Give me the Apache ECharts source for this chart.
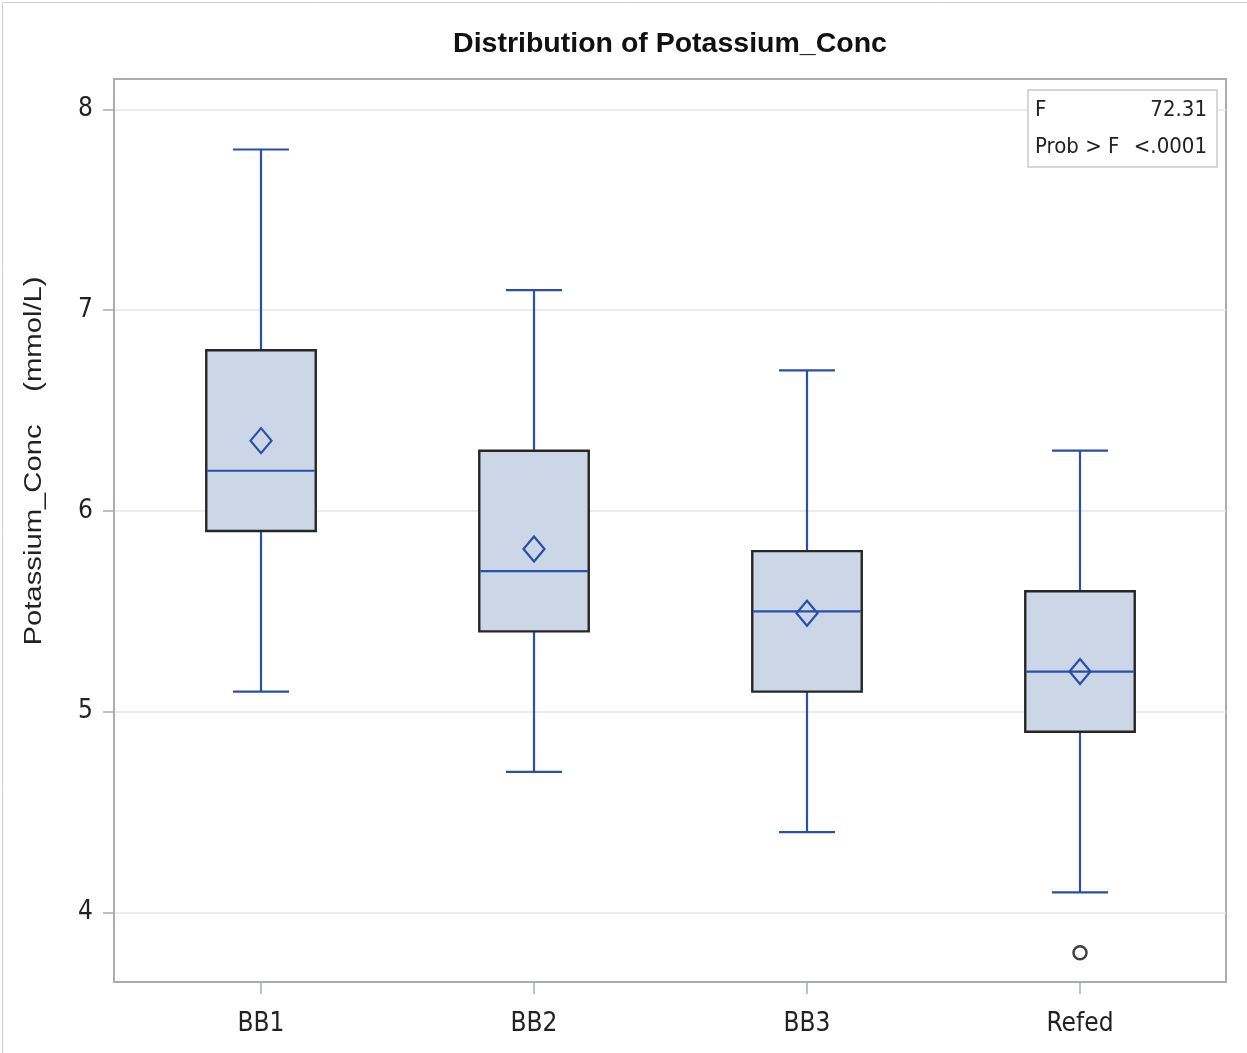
<!DOCTYPE html>
<html>
<head>
<meta charset="utf-8">
<script src="https://cdn.jsdelivr.net/npm/echarts@6/dist/echarts.min.js"></script>
<style>
html,body{margin:0;padding:0;background:#fff;}
#chart{width:1247px;height:1053px;}
</style>
</head>
<body>
<div id="chart"></div>
<script>
// ---- data ----
const categories   = ['BB1', 'BB2', 'BB3', 'Refed'];
const whiskerLow   = [5.1, 4.7, 4.4, 4.1];
const q1           = [5.9, 5.4, 5.1, 4.9];
const median       = [6.2, 5.7, 5.5, 5.2];
const q3           = [6.8, 6.3, 5.8, 5.6];
const whiskerHigh  = [7.8, 7.1, 6.7, 6.3];
const means        = [6.35, 5.81, 5.49, 5.20];
const outlierCats  = ['Refed'];
const outlierVals  = [3.8];
const yTicks       = [4, 5, 6, 7, 8];
const statLabels   = ['F', 'Prob > F'];
const statValues   = ['72.31', '<.0001'];
const titleText    = 'Distribution of Potassium_Conc';
const yTitleText   = 'Potassium_Conc    (mmol/L)';

const BLUE = '#2a4fa8';
const NARROW = "'Liberation Sans Narrow','DejaVu Sans Condensed','Arial Narrow',sans-serif";

const xTicks = categories.map((c, i) => i + 1);
const boxData = categories.map((c, i) => [i + 1, whiskerLow[i], q1[i], median[i], q3[i], whiskerHigh[i], means[i]]);
const outlierData = outlierCats.map((c, i) => [categories.indexOf(c) + 1, outlierVals[i]]);

const chart = echarts.init(document.getElementById('chart'), null, {renderer: 'canvas'});

const option = {
  animation: false,
  backgroundColor: '#fff',
  grid: {
    left: 114, right: 21, top: 79, bottom: 71,
    show: true, borderColor: '#a9adb1', borderWidth: 2, backgroundColor: 'transparent'
  },
  xAxis: {
    type: 'value',
    min: 0.4615, max: 4.5348,
    axisLine: {show: true, lineStyle: {color: '#a9adb1', width: 2}},
    axisTick: {show: true, customValues: xTicks, length: 12, lineStyle: {color: '#a9adb1', width: 1.5}},
    axisLabel: {
      customValues: xTicks, margin: 29,
      formatter: v => categories[Math.round(v) - 1] || '',
      fontFamily: NARROW, fontSize: 26, color: '#222'
    },
    splitLine: {show: false}
  },
  yAxis: {
    type: 'value',
    min: 3.654, max: 8.151,
    splitNumber: 5,
    axisLine: {show: true, lineStyle: {color: '#a9adb1', width: 2}},
    axisTick: {show: true, customValues: yTicks, length: 11, lineStyle: {color: '#a9adb1', width: 1.5}},
    axisLabel: {customValues: yTicks, margin: 21, fontFamily: NARROW, fontSize: 26, color: '#222'},
    splitLine: {show: true, lineStyle: {color: '#e4e4e4', width: 1.5}}
  },
  graphic: [
    {type: 'rect', left: 0, top: 0, shape: {x: 0.5, y: 0.5, width: 1246, height: 1052}, style: {fill: 'none', stroke: '#cfcfcf', lineWidth: 1}, silent: true, z: -10},
    {type: 'text', x: 670, y: 44, style: {text: titleText, font: "bold 28.5px 'Liberation Sans',Arial,sans-serif", fill: '#111', align: 'center', verticalAlign: 'middle'}},
    {type: 'text', x: 35, y: 461, rotation: Math.PI / 2, scaleX: 1.33, scaleY: 1.05,
      style: {text: yTitleText, font: "22px 'Liberation Sans',Arial,sans-serif", fill: '#222', align: 'center', verticalAlign: 'middle'}},
    {type: 'rect', shape: {x: 1028, y: 90, width: 189, height: 77}, style: {fill: '#fff', stroke: '#c9c9c9', lineWidth: 1.5}, z: 100},
    {type: 'text', x: 1035, y: 110, z: 101, style: {text: statLabels[0], font: "22px " + NARROW, fill: '#222', align: 'left', verticalAlign: 'middle'}},
    {type: 'text', x: 1207, y: 110, z: 101, style: {text: statValues[0], font: "22px " + NARROW, fill: '#222', align: 'right', verticalAlign: 'middle'}},
    {type: 'text', x: 1035, y: 147, z: 101, style: {text: statLabels[1], font: "22px " + NARROW, fill: '#222', align: 'left', verticalAlign: 'middle'}},
    {type: 'text', x: 1207, y: 147, z: 101, style: {text: statValues[1], font: "22px " + NARROW, fill: '#222', align: 'right', verticalAlign: 'middle'}}
  ],
  series: [
    {
      type: 'custom',
      data: boxData,
      encode: {x: 0, y: [1, 2, 3, 4, 5, 6]},
      renderItem: function (params, api) {
        const x = api.value(0);
        const pLow = api.coord([x, api.value(1)]);
        const pQ1 = api.coord([x, api.value(2)]);
        const pMed = api.coord([x, api.value(3)]);
        const pQ3 = api.coord([x, api.value(4)]);
        const pHigh = api.coord([x, api.value(5)]);
        const pMean = api.coord([x, api.value(6)]);
        const cx = pLow[0];
        const halfBox = api.coord([x + 0.2005, api.value(1)])[0] - cx;
        const halfCap = api.coord([x + 0.1026, api.value(1)])[0] - cx;
        const lineStyle = {stroke: BLUE, lineWidth: 2.2};
        const dw = 10.5, dh = 12.5;
        return {
          type: 'group',
          children: [
            {type: 'line', shape: {x1: cx, y1: pLow[1], x2: cx, y2: pQ1[1]}, style: lineStyle},
            {type: 'line', shape: {x1: cx, y1: pQ3[1], x2: cx, y2: pHigh[1]}, style: lineStyle},
            {type: 'line', shape: {x1: cx - halfCap, y1: pLow[1], x2: cx + halfCap, y2: pLow[1]}, style: lineStyle},
            {type: 'line', shape: {x1: cx - halfCap, y1: pHigh[1], x2: cx + halfCap, y2: pHigh[1]}, style: lineStyle},
            {type: 'rect', shape: {x: cx - halfBox, y: pQ3[1], width: 2 * halfBox, height: pQ1[1] - pQ3[1]},
              style: {fill: '#cbd6e6', stroke: '#262626', lineWidth: 2.4}},
            {type: 'line', shape: {x1: cx - halfBox + 1, y1: pMed[1], x2: cx + halfBox - 1, y2: pMed[1]}, style: lineStyle},
            {type: 'polygon', shape: {points: [[cx, pMean[1] - dh], [cx + dw, pMean[1]], [cx, pMean[1] + dh], [cx - dw, pMean[1]]]},
              style: {fill: 'none', stroke: BLUE, lineWidth: 2.2}}
          ]
        };
      },
      z: 5
    },
    {
      type: 'scatter',
      data: outlierData,
      symbol: 'circle',
      symbolSize: 13,
      itemStyle: {color: '#fff', borderColor: '#111', borderWidth: 2.5},
      z: 6
    }
  ]
};
chart.setOption(option);
</script>
</body>
</html>
